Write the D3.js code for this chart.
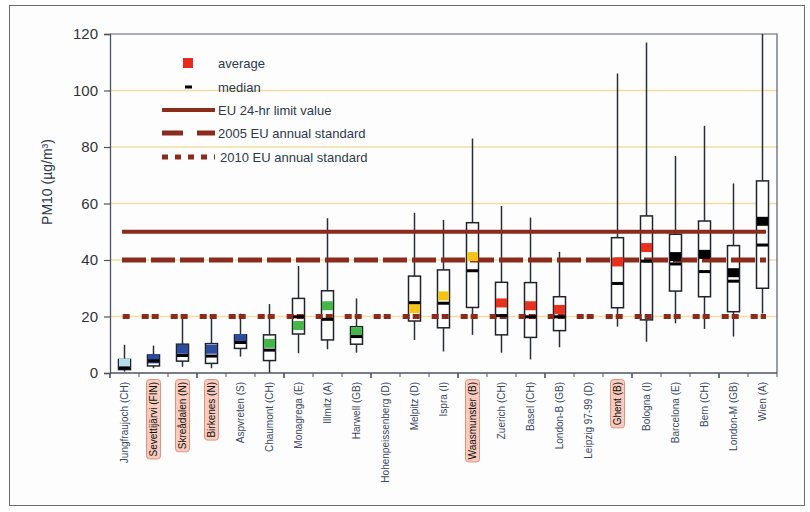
<!DOCTYPE html>
<html>
<head>
<meta charset="utf-8">
<script src="https://cdn.jsdelivr.net/npm/d3@7"></script>
<style>
  html, body { margin: 0; padding: 0; background: #ffffff; }
  svg { display: block; font-family: "Liberation Sans", Arial, sans-serif; }
</style>
</head>
<body>
<svg id="chart" width="810" height="512"></svg>
<script>
// ---------------- DATA ----------------
const categories = [
  "Jungfraujoch (CH)", "Sevettijärvi (FIN)", "Skreådalen (N)", "Birkenes (N)", "Aspvreten (S)",
  "Chaumont (CH)", "Monagrega (E)", "Illmitz (A)", "Harwell (GB)", "Hohenpeissenberg (D)",
  "Melpitz (D)", "Ispra (I)", "Waasmunster (B)", "Zuerich (CH)", "Basel (CH)",
  "London-B (GB)", "Leipzig 97-99 (D)", "Ghent (B)", "Bologna (I)", "Barcelona (E)",
  "Bern (CH)", "London-M (GB)", "Wien (A)"
];
const siteType = [
  "high-alpine", "nordic", "nordic", "nordic", "nordic",
  "rural", "rural", "rural", "rural", "rural",
  "near-city", "near-city", "near-city", "urban", "urban",
  "urban", "urban", "urban", "urban", "kerbside",
  "kerbside", "kerbside", "kerbside"
];
const minValues    = [0.5, 1.7, 2.2, 1.7, 5.8, 0, 7, 8.4, 7.2, null, 11.7, 7.6, 13.5, 7.2, 4.8, 9.1, null, 16.4, 11.1, 17.6, 15.6, 12.9, 21.1];
const q1Values     = [1.2, 2.5, 4.2, 3.4, 8.7, 4.4, 13.8, 11.7, 10.2, null, 18.4, 16, 23.2, 13.5, 12.6, 15, null, 23.1, 18.8, 29, 27, 21.7, 30];
const medianValues = [1.8, 4.3, 6.2, 6.0, 10.8, 8.1, 19.9, 19, 12.9, null, 24.9, 24.7, 36.2, 20.3, 19.9, 19.9, null, 31.7, 39.6, 38.6, 35.9, 32.5, 45.3];
const averageValues= [3.5, 5.0, 8.4, 8.4, 12.2, 10.5, 16.8, 23.8, 14.6, null, 22.8, 27.3, 41.2, 24.8, 23.8, 22.5, null, 39.3, 44.4, 41.2, 42, 35.5, 53.7];
const q3Values     = [4.8, 6.4, 10.2, 10.4, 13.5, 13.5, 26.4, 29.1, 16.4, null, 34.3, 36.5, 53.2, 32.1, 32, 27, null, 47.9, 55.6, 49.1, 53.8, 45.1, 68];
const maxValues    = [10, 9.7, 19.5, 19.5, 21, 24.4, 37.9, 54.8, 26.4, null, 56.7, 54.2, 83, 59.1, 55, 42.9, null, 106, 117, 76.8, 87.5, 67.1, 120];
const highlighted  = ["Sevettijärvi (FIN)", "Skreådalen (N)", "Birkenes (N)", "Waasmunster (B)", "Ghent (B)"];
const yTicks = [0, 20, 40, 60, 80, 100, 120];
const limitNames  = ["EU 24-hr limit value", "2005 EU annual standard", "2010 EU annual standard"];
const limitValues = [50, 40, 20];
const yTitle = "PM10 (µg/m³)";

// ---------------- STYLES ----------------
const typeColor = {
  "high-alpine": "#b7dcea", "nordic": "#2e4c9e", "rural": "#45b649",
  "near-city": "#f5c316", "urban": "#e8301f", "kerbside": "#000000"
};
const limitColor = "#8a2b1c";
const limitDash = [null, "24,5", "7,3,7,12"];
const limitOffset = [0, 0, 9.3];
const textColor = "#2e3a4a";

const svg = d3.select("#chart");
const margin = {left: 110, right: 33, top: 34, bottom: 139};
const W = 810, H = 512;

// outer frame
svg.append("rect").attr("x", 9.5).attr("y", 5.5).attr("width", 795).attr("height", 500)
  .attr("fill", "#fdfdfe").attr("stroke", "#6b6b6b").attr("stroke-width", 1);

const x = d3.scaleBand().domain(categories).range([margin.left, W - margin.right]).padding(0);
const y = d3.scaleLinear().domain([0, 120]).range([H - margin.bottom, margin.top]);
const bw = x.bandwidth();
const boxW = 12;

// grid lines
svg.append("g").selectAll("line").data(yTicks.filter(v => v > 0 && v < 120)).join("line")
  .attr("x1", margin.left).attr("x2", W - margin.right)
  .attr("y1", d => y(d)).attr("y2", d => y(d))
  .attr("stroke", "#f1dea0").attr("stroke-width", 1.5);

// frame top/right
svg.append("path")
  .attr("d", `M${margin.left},${y(120)}H${W - margin.right}V${y(0)}`)
  .attr("fill", "none").attr("stroke", "#5a606c").attr("stroke-width", 1.2);

const idx = d3.range(categories.length).filter(i => minValues[i] !== null);

// whiskers
svg.append("g").selectAll("line").data(idx).join("line")
  .attr("x1", i => x(categories[i]) + bw / 2).attr("x2", i => x(categories[i]) + bw / 2)
  .attr("y1", i => y(minValues[i])).attr("y2", i => y(maxValues[i]))
  .attr("stroke", "#2a2e36").attr("stroke-width", 1.5);

// boxes
svg.append("g").selectAll("rect").data(idx).join("rect")
  .attr("x", i => x(categories[i]) + bw / 2 - boxW / 2)
  .attr("width", boxW)
  .attr("y", i => y(q3Values[i]))
  .attr("height", i => y(q1Values[i]) - y(q3Values[i]))
  .attr("fill", "#ffffff").attr("stroke", "#1f232a").attr("stroke-width", 1.5);

// limit lines
const lineX1 = x(categories[0]) + bw / 2 - 2.5;
const lineX2 = x(categories[categories.length - 1]) + bw / 2 + 3.5;
limitValues.forEach((v, k) => {
  const l = svg.append("line")
    .attr("x1", lineX1).attr("x2", lineX2)
    .attr("y1", y(v)).attr("y2", y(v))
    .attr("stroke", limitColor).attr("stroke-width", k === 0 ? 4 : 5);
  if (limitDash[k]) l.attr("stroke-dasharray", limitDash[k]).attr("stroke-dashoffset", limitOffset[k]);
});

// averages
svg.append("g").selectAll("rect").data(idx).join("rect")
  .attr("x", i => x(categories[i]) + bw / 2 - boxW / 2 + 0.5)
  .attr("width", boxW - 1)
  .attr("y", i => y(averageValues[i]) - 4.5)
  .attr("height", 9)
  .attr("fill", i => typeColor[siteType[i]]);

// medians
svg.append("g").selectAll("rect").data(idx).join("rect")
  .attr("x", i => x(categories[i]) + bw / 2 - boxW / 2 + 0.5)
  .attr("width", boxW - 1)
  .attr("y", i => y(medianValues[i]) - 1.5)
  .attr("height", 3)
  .attr("fill", "#000");

// y axis
const yAxis = svg.append("g").attr("transform", `translate(${margin.left},0)`)
  .call(d3.axisLeft(y).tickValues(yTicks).tickSize(6).tickPadding(6));
yAxis.select(".domain").attr("stroke", "#4d5360").attr("stroke-width", 1.3);
yAxis.selectAll(".tick line").attr("stroke", "#4d5360").attr("stroke-width", 1.2);
yAxis.selectAll(".tick text").attr("font-size", 15).attr("fill", "#333")
  .attr("font-family", "Liberation Sans, Arial, sans-serif");

svg.append("text")
  .attr("transform", `translate(52,182) rotate(-90)`)
  .attr("text-anchor", "middle").attr("font-size", 14).attr("fill", textColor)
  .text(yTitle);

// x axis
svg.append("line").attr("x1", margin.left).attr("x2", W - margin.right)
  .attr("y1", y(0)).attr("y2", y(0)).attr("stroke", "#4d5360").attr("stroke-width", 1.3);
const bounds = categories.map(c => x(c)).concat([W - margin.right]);
svg.append("g").selectAll("line").data(bounds).join("line")
  .attr("x1", d => d).attr("x2", d => d)
  .attr("y1", y(0)).attr("y2", (d, i) => y(0) + (i % 3 === 0 ? 5 : 4))
  .attr("stroke", "#4d5360").attr("stroke-width", (d, i) => i % 3 === 0 ? 1.6 : 1);

const labG = svg.append("g");
categories.forEach(c => {
  const hl = highlighted.includes(c);
  const t = labG.append("text")
    .attr("transform", `translate(${x(c) + bw / 2},382) rotate(-90)`)
    .attr("text-anchor", "end").attr("dy", "0.35em")
    .attr("font-size", 10).attr("fill", hl ? "#111" : "#3b4a60")
    .text(c);
  if (hl) {
    const b = t.node().getBBox();
    labG.insert("rect", "text")
      .attr("transform", `translate(${x(c) + bw / 2},382) rotate(-90)`)
      .attr("x", b.x - 2.5).attr("y", b.y - 1.5)
      .attr("width", b.width + 5).attr("height", b.height + 3)
      .attr("rx", 3).attr("fill", "#f7cbbd").attr("stroke", "#e3927c").attr("stroke-width", 1);
  }
});

// legend
const lg = svg.append("g");
const lx = 162, tx = 218;
lg.append("rect").attr("x", 183).attr("y", 58).attr("width", 10).attr("height", 10).attr("fill", "#e8291c");
lg.append("text").attr("x", tx).attr("y", 63).attr("dy", "0.35em").attr("font-size", 13).attr("fill", textColor).text("average");
lg.append("rect").attr("x", 185).attr("y", 85.5).attr("width", 7).attr("height", 3).attr("fill", "#000");
lg.append("text").attr("x", tx).attr("y", 87).attr("dy", "0.35em").attr("font-size", 13).attr("fill", textColor).text("median");
const legDash = [null, "21,14,18", "6,7"];
const legY = [110, 133, 157];
limitNames.forEach((n, k) => {
  const l = lg.append("line").attr("x1", lx).attr("x2", 215).attr("y1", legY[k]).attr("y2", legY[k])
    .attr("stroke", limitColor).attr("stroke-width", k === 0 ? 4 : 5);
  if (legDash[k]) l.attr("stroke-dasharray", legDash[k]);
  lg.append("text").attr("x", k === 2 ? 220 : tx).attr("y", legY[k]).attr("dy", "0.35em")
    .attr("font-size", 13).attr("fill", textColor).text(n);
});
</script>
</body>
</html>
